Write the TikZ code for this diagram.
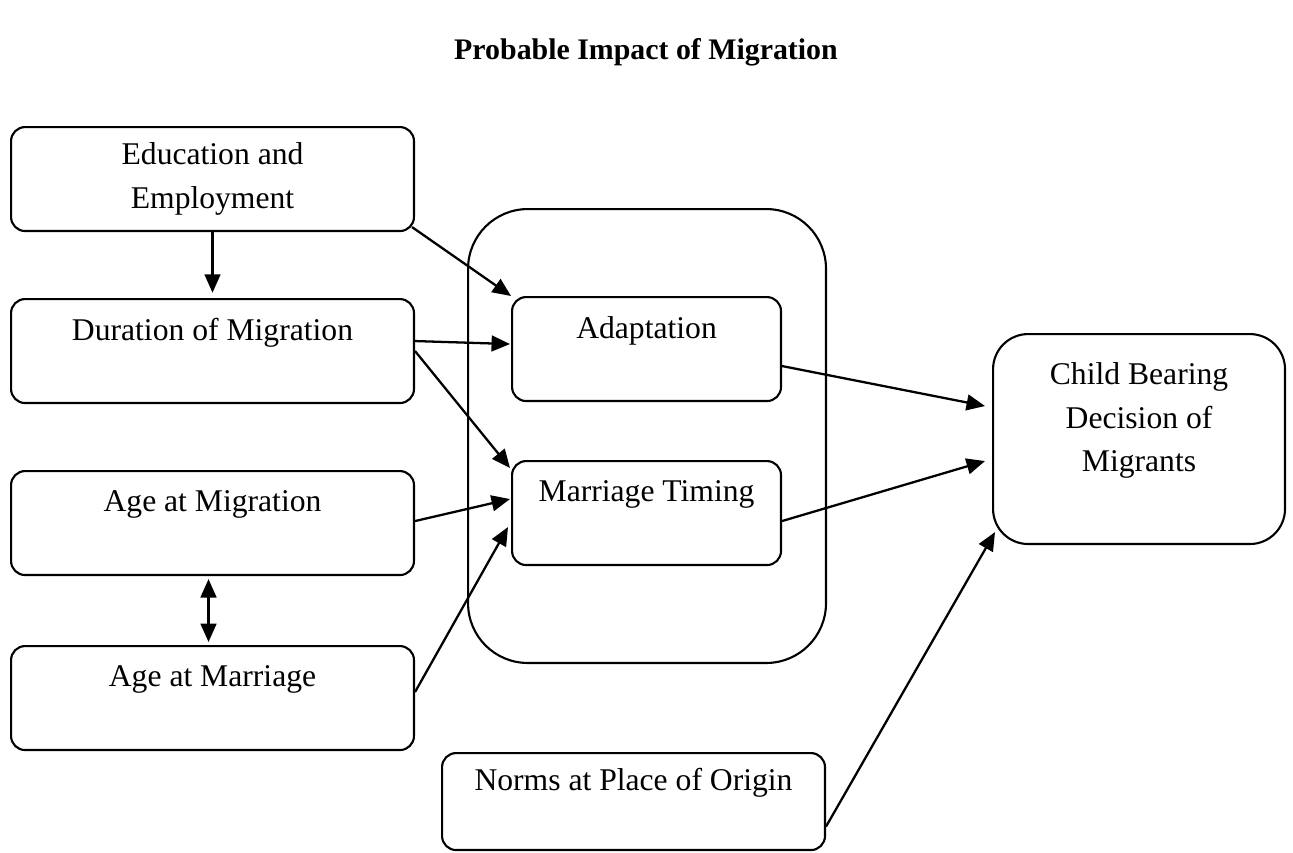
\documentclass[tikz,border=0pt]{standalone}
\usepackage{fontspec}
\setmainfont{Liberation Serif}
\usetikzlibrary{arrows.meta,positioning,calc}

\begin{document}
\begin{tikzpicture}[x=0.02cm,y=-0.02cm,box/.style={draw,line width=1.2pt,rounded corners=8pt,anchor=north west,align=center,inner sep=0pt,font=\fontsize{18}{25}\selectfont},arr/.style={->,>={Triangle[length=10.5pt,width=9pt]},line width=1.3pt},bi/.style={arr,<->}]

\useasboundingbox (0,0) rectangle (1293,852);
\node[font=\fontsize{17}{20}\selectfont\bfseries] (title) at(646,52) {Probable Impact of Migration};

\node[box,minimum width=8.06cm,minimum height=2.08cm] (edu) at(10,126) {Education and\\Employment};
\node[box,minimum width=8.06cm,minimum height=2.08cm] (dur) at(10,298) {Duration of Migration\\~};
\node[box,minimum width=8.06cm,minimum height=2.08cm] (agemig) at(10,470) {Age at Migration\\~};
\node[box,minimum width=8.06cm,minimum height=2.08cm] (agemar) at(10,645) {Age at Marriage\\~};
\node[box,rounded corners=34pt,minimum width=7.16cm,minimum height=9.08cm] (grp) at(467,208) {};
\node[box,minimum width=5.38cm,minimum height=2.08cm] (adapt) at(511,296) {Adaptation\\~};
\node[box,minimum width=5.38cm,minimum height=2.08cm] (marr) at(511,460) {Marriage Timing\\~};
\node[box,rounded corners=20pt,minimum width=5.84cm,minimum height=4.2cm] (child) at(992,333) {Child Bearing\\Decision of\\Migrants\\~};
\node[box,minimum width=7.66cm,minimum height=1.94cm] (norms) at(441,752) {Norms at Place of Origin\\~};

\draw[arr,shorten >=3pt] (edu) -- (dur);
\draw[bi] ($(agemig.south)+(-4,3)$) -- ($(agemar.north)+(-4,-3)$);
\draw[arr] ($(edu.south east)+(-3,-5)$) -- (adapt.north west);
\draw[arr] ($(dur.east)+(0,-10)$) -- ($(adapt.west)+(-1,-5)$);
\draw[arr] (dur.east) -- ($(marr.north west)+(-1,8)$);
\draw[arr] ($(agemig.east)+(0,-2)$) -- ($(marr.west)+(-1,-14)$);
\draw[arr] ($(agemar.east)+(0,-6)$) -- ($(marr.west)+(-3,14)$);
\draw[arr] ($(adapt.east)+(0,17)$) -- ($(child.west)+(-7,-33)$);
\draw[arr] ($(marr.east)+(0,8)$) -- ($(child.west)+(-7,22)$);
\draw[arr] ($(norms.east)+(0,25)$) -- ($(child.south west)+(3,-13)$);
\end{tikzpicture}
\end{document}
